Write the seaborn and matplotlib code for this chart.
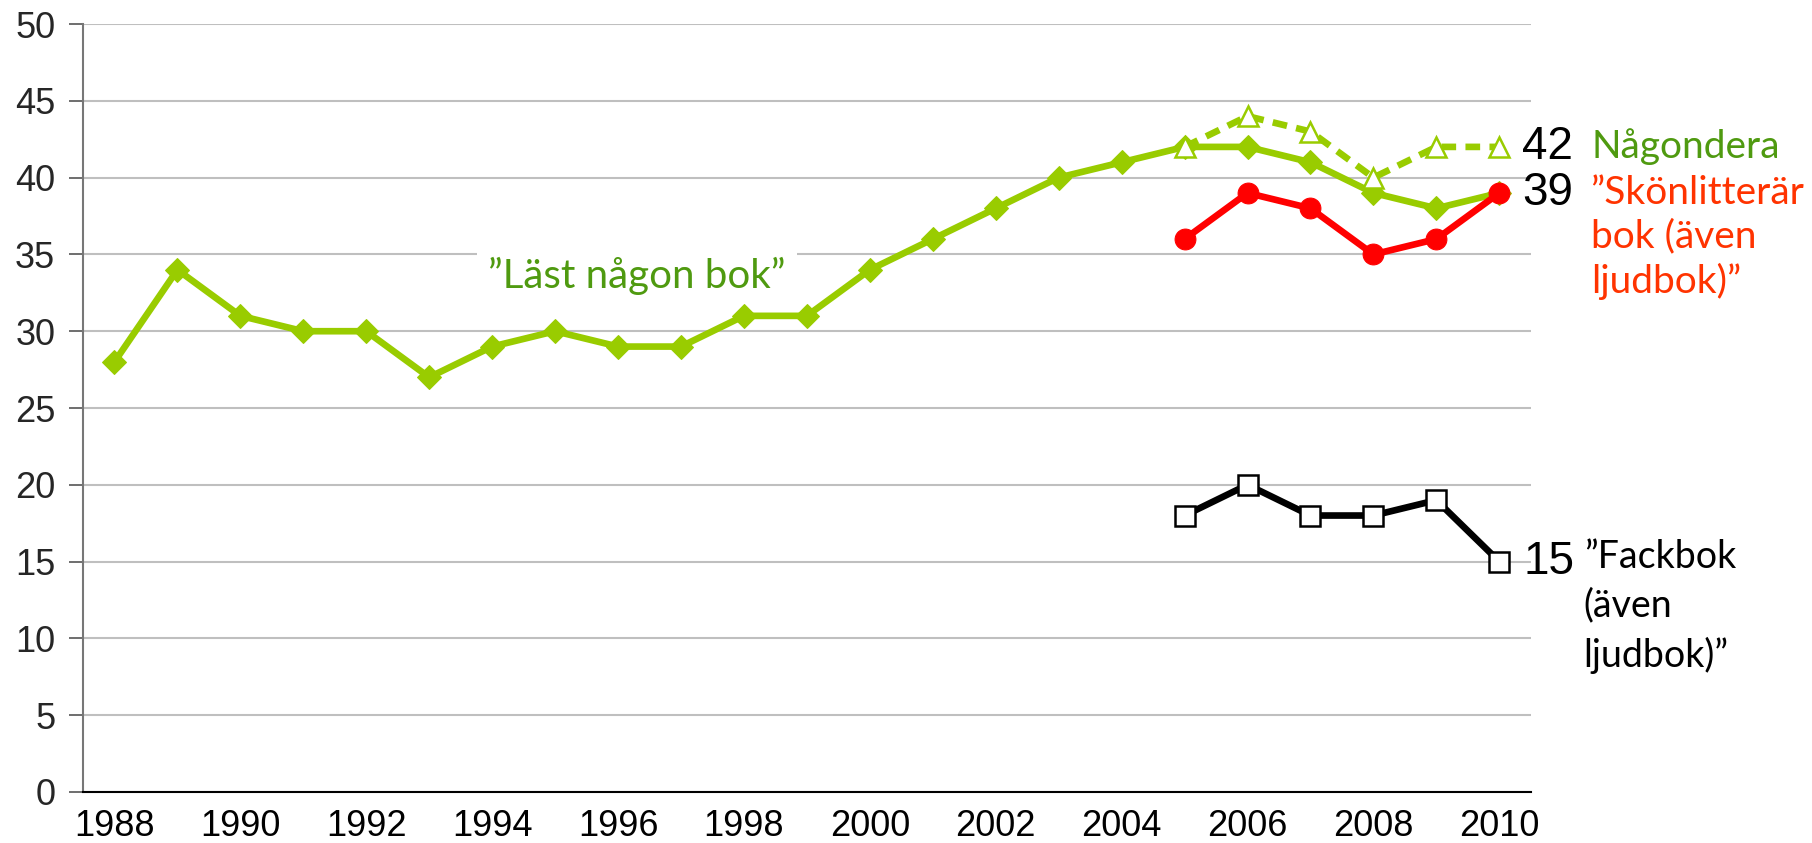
import matplotlib
matplotlib.use("Agg")
import matplotlib.pyplot as plt
import seaborn as sns
import pandas as pd

# ---- data ----
years_all = list(range(1988, 2011))
last_nagon_bok = [28, 34, 31, 30, 30, 27, 29, 30, 29, 29, 31, 31, 34, 36, 38, 40, 41, 42, 42, 41, 39, 38, 39]
years_recent = list(range(2005, 2011))
nagondera = [42, 44, 43, 40, 42, 42]
skonlitterar = [36, 39, 38, 35, 36, 39]
fackbok = [18, 20, 18, 18, 19, 15]
tick_years = list(range(1988, 2011, 2))
y_ticks = list(range(0, 51, 5))

label_main = "”Läst någon bok”"
label_nag = "Någondera"
label_skon = "”Skönlitterär\nbok (även\nljudbok)”"
label_fack = "”Fackbok\n(även\nljudbok)”"

GREEN = "#99CC00"
GREEN_TXT = "#4F9A10"
RED = "#FF0000"
RED_TXT = "#FF3300"

sns.set_style("white")
num_font = ["Liberation Sans Narrow", "Liberation Sans", "DejaVu Sans"]
plt.rcParams["font.family"] = num_font

fig = plt.figure(figsize=(18.12, 8.43), dpi=100)
ax = fig.add_axes([0.0458, 0.0605, 0.799, 0.911])

df_main = pd.DataFrame({"year": years_all, "value": last_nagon_bok})
df_nag = pd.DataFrame({"year": years_recent, "value": nagondera})
df_skon = pd.DataFrame({"year": years_recent, "value": skonlitterar})
df_fack = pd.DataFrame({"year": years_recent, "value": fackbok})

sns.lineplot(data=df_main, x="year", y="value", ax=ax, color=GREEN, lw=4.8,
             marker="D", markersize=12, markeredgecolor=GREEN, zorder=3)
sns.lineplot(data=df_nag, x="year", y="value", ax=ax, color=GREEN, lw=4.8,
             linestyle=(0, (2.2, 1.4)), marker="^", markersize=15,
             markerfacecolor="white", markeredgecolor=GREEN, markeredgewidth=1.8, zorder=4)
sns.lineplot(data=df_skon, x="year", y="value", ax=ax, color=RED, lw=4.8,
             marker="o", markersize=15, markeredgecolor=RED, zorder=4)
sns.lineplot(data=df_fack, x="year", y="value", ax=ax, color="black", lw=4.8,
             marker="s", markersize=15, markerfacecolor="white",
             markeredgecolor="black", markeredgewidth=1.8, zorder=4)

ax.set_xlim(years_all[0] - 0.5, years_all[-1] + 0.5)
ax.set_ylim(0, 50)
ax.set_xlabel("")
ax.set_ylabel("")

ax.set_yticks(y_ticks)
ax.yaxis.grid(True, color="#BFBFBF", lw=1.5)
ax.xaxis.grid(False)
ax.set_axisbelow(True)

ax.set_xticks(tick_years)
ax.set_xticklabels([str(y) for y in tick_years])
ax.set_xticks([y - 0.5 for y in years_all] + [years_all[-1] + 0.5], minor=True)
ax.tick_params(axis="x", which="major", length=0, labelsize=26, pad=12, colors="black")
ax.tick_params(axis="x", which="minor", length=10, width=1.2, color="#555555", direction="out")
ax.tick_params(axis="y", which="major", length=10, width=1.2, color="#555555",
               labelsize=26, pad=10, direction="out", left=True)

for s in ["top", "right"]:
    ax.spines[s].set_visible(False)
ax.spines["left"].set_color("#777777")
ax.spines["left"].set_linewidth(1.5)
ax.spines["bottom"].set_color("black")
ax.spines["bottom"].set_linewidth(1.5)

txt_font = ["Lato", "DejaVu Sans"]
ax.text(1996.3, 33.6, label_main, color=GREEN_TXT, fontsize=29, family=txt_font,
        ha="center", va="center", zorder=2,
        bbox=dict(facecolor="white", edgecolor="none", pad=8))

ax.text(2010.36, 42, str(nagondera[-1]), fontsize=33, color="black", ha="left", va="center", clip_on=False)
ax.text(2010.36, 39, str(skonlitterar[-1]), fontsize=33, color="black", ha="left", va="center", clip_on=False)
ax.text(2010.38, 15, str(fackbok[-1]), fontsize=33, color="black", ha="left", va="center", clip_on=False)

ax.text(2011.46, 42, label_nag, fontsize=28, color=GREEN_TXT, family=txt_font,
        ha="left", va="center", clip_on=False)
ax.text(2011.46, 40.2, label_skon, fontsize=28, color=RED_TXT, family=txt_font,
        ha="left", va="top", clip_on=False, linespacing=1.27)
ax.text(2011.34, 16.5, label_fack, fontsize=27, color="black", family=txt_font,
        ha="left", va="top", clip_on=False, linespacing=1.45)

fig.savefig("out.png", dpi=100)
